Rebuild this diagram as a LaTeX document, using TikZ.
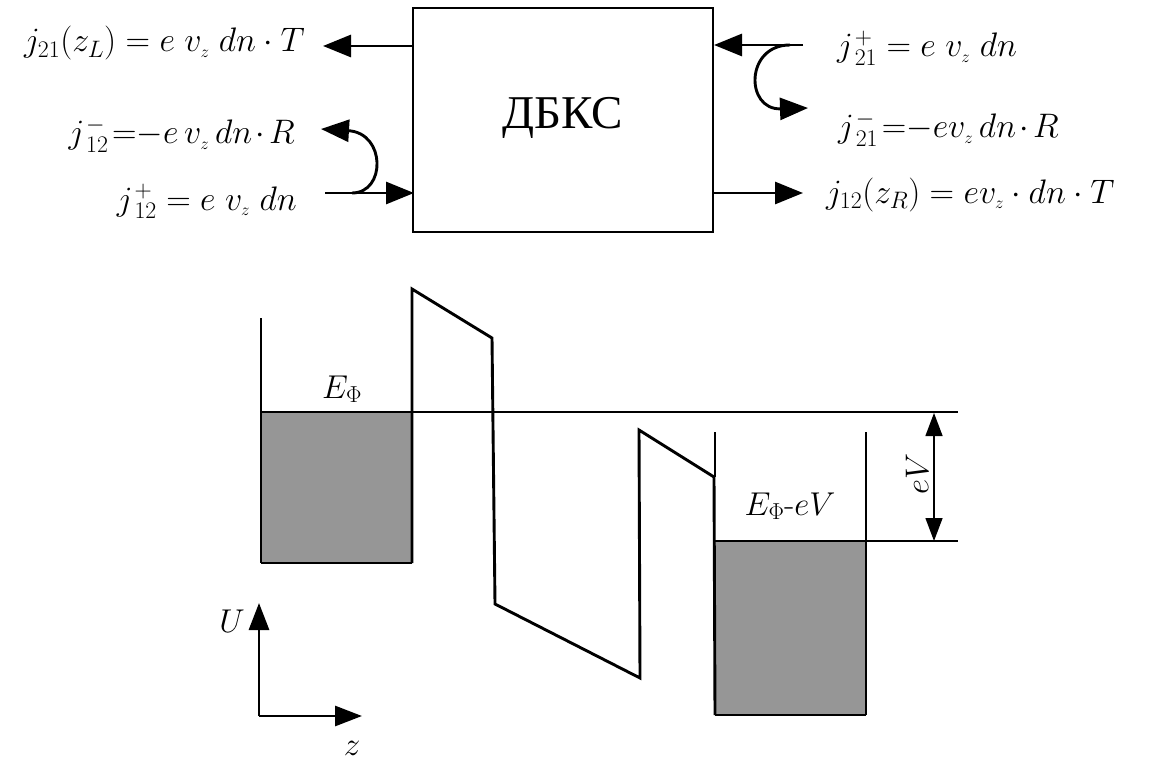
\RequirePackage{fix-cm}
\documentclass[tikz,border=0pt]{standalone}
\usepackage{fontspec}
\newfontfamily\cyr{Liberation Serif}
\usetikzlibrary{arrows.meta}
\newcommand{\vz}{v_{\scriptscriptstyle z}}
\begin{document}
\begin{tikzpicture}[x=1pt,y=-1pt,
  thickline/.style={line width=2.9pt},
  thinline/.style={line width=1.4pt},
  bigarr/.style={thickline,-{Triangle[length=28pt,width=22pt]}},
  smallarr/.style={thinline,{Triangle[length=23pt,width=17pt]}-{Triangle[length=23pt,width=17pt]}},
  axarr/.style={thickline,-{Triangle[length=27pt,width=20pt]}},
  frm/.style={inner sep=0pt,font=\fontsize{34}{40}\selectfont},
  lbl/.style={inner sep=0pt,font=\fontsize{33}{40}\selectfont},
  fillgray/.style={fill=black!41}]
\useasboundingbox (0,0) rectangle (1158,762);

% box
\node[draw,thickline,minimum width=300pt,minimum height=224pt,inner sep=0pt] (B) at (563,120) {};
\node[inner sep=0pt,font=\cyr\fontsize{47}{52}\selectfont] (Bt) at (563,118) {ДБКС};

% left side
\coordinate (L1a) at (413,46);
\coordinate (L1b) at (323,46);
\draw[bigarr] (L1a) -- (L1b);
\coordinate (L3a) at (325,193);
\coordinate (L3b) at (414,193);
\draw[bigarr] (L3a) -- (L3b);
\coordinate (L2a) at (352,193);
\coordinate (L2b) at (321,129);
\draw[bigarr] (L2a) .. controls (386,193) and (386,133) .. (L2b);

\node[frm,anchor=base east] (t1) at (305,52) {$j_{21}(z_{L}) = e\;\vz\;dn\cdot T$};
\node[frm,anchor=base east] (t2) at (295,144) {$j\mkern1mu^{-}_{12}\mkern2mu{=}{-}e\,\vz\,dn\mkern2mu{\cdot}\mkern2mu R$};
\node[frm,anchor=base east] (t3) at (297,210) {$j\mkern1mu^{+}_{12} = e\;\vz\;dn$};

% right side
\coordinate (R1a) at (803,45);
\coordinate (R1b) at (714,45);
\draw[bigarr] (R1a) -- (R1b);
\coordinate (R2a) at (790,45);
\coordinate (R2b) at (808,108);
\draw[bigarr] (R2a) .. controls (745,45) and (745,110) .. (R2b);
\coordinate (R3a) at (713,193);
\coordinate (R3b) at (803,193);
\draw[bigarr] (R3a) -- (R3b);

\node[frm,anchor=base west] (t4) at (837,57) {$j\mkern1mu^{+}_{21} = e\;\vz\;dn$};
\node[frm,anchor=base west] (t5) at (838,138) {$j\mkern1mu^{-}_{21}\mkern2mu{=}{-}e\vz\,dn\mkern2mu{\cdot}\mkern2mu R$};
\node[frm,anchor=base west] (t6) at (826,203) {$j_{12}(z_R) = e\vz\cdot dn\cdot T$};

% lower diagram: wells
\fill[fillgray] (261,412) rectangle (412,563);
\fill[fillgray] (715,541) rectangle (866,715);
\draw[thinline] (261,318) -- (261,563);
\draw[thickline] (261,563) -- (412,563);
\draw[thinline] (261,412) -- (958,412);
\draw[thinline] (715,541) -- (958,541);
\draw[thinline] (715,432) -- (715,477);
\draw[thinline] (866,432) -- (866,715);
\draw[thickline] (715,715) -- (866,715);
% barrier profile
\draw[thickline,line join=miter] (412,563) -- (412,289) -- (492,338) -- (495,604) -- (640,678) -- (639,430) -- (714,477) -- (715,715);

% eV arrow
\coordinate (V1) at (934,413);
\coordinate (V2) at (934,541);
\draw[smallarr] (V1) -- (V2);
\node[lbl,rotate=90] (eV) at (917,474) {$eV$};

\node[lbl,anchor=base] (EF) at (342,398) {$E_{\Phi}$};
\node[lbl,anchor=base] (EF2) at (790,515) {$E_{\Phi}$-$eV$};

% axes
\coordinate (O) at (259,716);
\coordinate (Uy) at (259,603);
\coordinate (Zx) at (362,716);
\draw[axarr] (O) -- (Uy);
\draw[axarr] (O) -- (Zx);
\node[lbl,anchor=base] (U) at (232,632) {$U$};
\node[lbl,anchor=base] (Z) at (352,755) {$z$};
\end{tikzpicture}
\end{document}
